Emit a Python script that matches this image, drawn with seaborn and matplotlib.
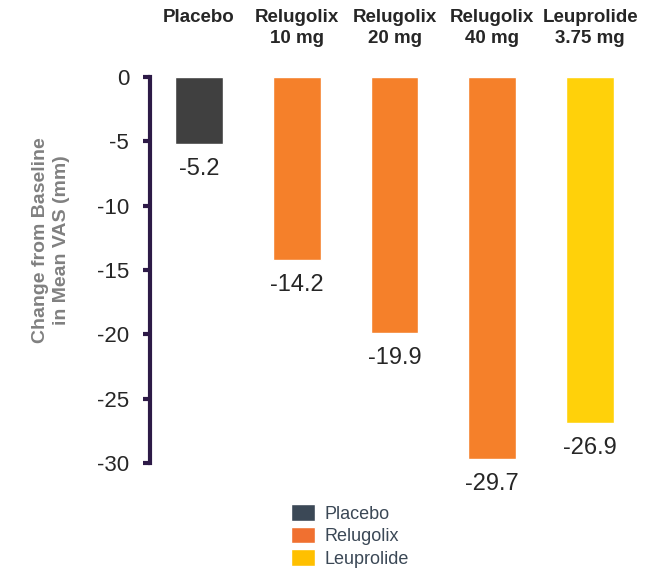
import matplotlib
matplotlib.use("Agg")
import matplotlib.pyplot as plt
from matplotlib.patches import Patch
import seaborn as sns
import pandas as pd

# datos
categories = ["Placebo", "Relugolix\n10 mg", "Relugolix\n20 mg", "Relugolix\n40 mg", "Leuprolide\n3.75 mg"]
values = [-5.2, -14.2, -19.9, -29.7, -26.9]
groups = ["Placebo", "Relugolix", "Relugolix", "Relugolix", "Leuprolide"]
yticks = [0, -5, -10, -15, -20, -25, -30]

bar_colors = {"Placebo": "#404040", "Relugolix": "#f5802a", "Leuprolide": "#ffd10a"}
legend_colors = {"Placebo": "#3b4856", "Relugolix": "#f07030", "Leuprolide": "#ffc000"}

df = pd.DataFrame({"cat": categories, "val": values, "group": groups})

sns.set_style("white")
plt.rcParams["font.family"] = ["Liberation Sans", "DejaVu Sans"]

fig = plt.figure(figsize=(6.63, 5.69), dpi=100)
ax = fig.add_axes([150 / 663, 1 - 463 / 569, (639 - 150) / 663, (463 - 77) / 569])

sns.barplot(data=df, x="cat", y="val", hue="group", palette=bar_colors,
            dodge=False, width=0.49, legend=False, ax=ax, saturation=1)

ax.set_ylim(-30, 0)
ax.set_xlim(-0.5, 4.5)
ax.set_yticks(yticks)
ax.set_yticklabels([str(t) for t in yticks], fontsize=16)
ax.tick_params(axis="y", left=True, length=5, width=3, color="#2d1a47", pad=10)

ax.set_xticks([])
ax.set_xlabel("")
ax.set_ylabel("Change from Baseline\nin Mean VAS (mm)", fontsize=14,
              fontweight="bold", color="#808080", linespacing=1.3)
ax.yaxis.set_label_coords(-0.163, 0.578)

# etiquetas de grupo arriba
for i, c in enumerate(categories):
    ax.text(i, 1.175, c, transform=ax.get_xaxis_transform(), ha="center", va="top",
            fontsize=13.5, fontweight="bold", linespacing=1.3)

for s in ["top", "right", "bottom"]:
    ax.spines[s].set_visible(False)
ax.spines["left"].set_color("#2d1a47")
ax.spines["left"].set_linewidth(3)

for i, v in enumerate(values):
    ax.annotate(f"{v:.1f}", (i, v), xytext=(0, -10), textcoords="offset points",
                ha="center", va="top", fontsize=17)

handles = [Patch(facecolor=legend_colors[g], label=g) for g in ["Placebo", "Relugolix", "Leuprolide"]]
leg = fig.legend(handles=handles, loc="lower center", bbox_to_anchor=(0.528, -0.02),
                 frameon=False, fontsize=13, handlelength=1.3, handleheight=1.05,
                 handletextpad=0.55, labelspacing=0.22, borderpad=0.2)
for t in leg.get_texts():
    t.set_color("#3b4856")

fig.savefig("out.png", dpi=100)
